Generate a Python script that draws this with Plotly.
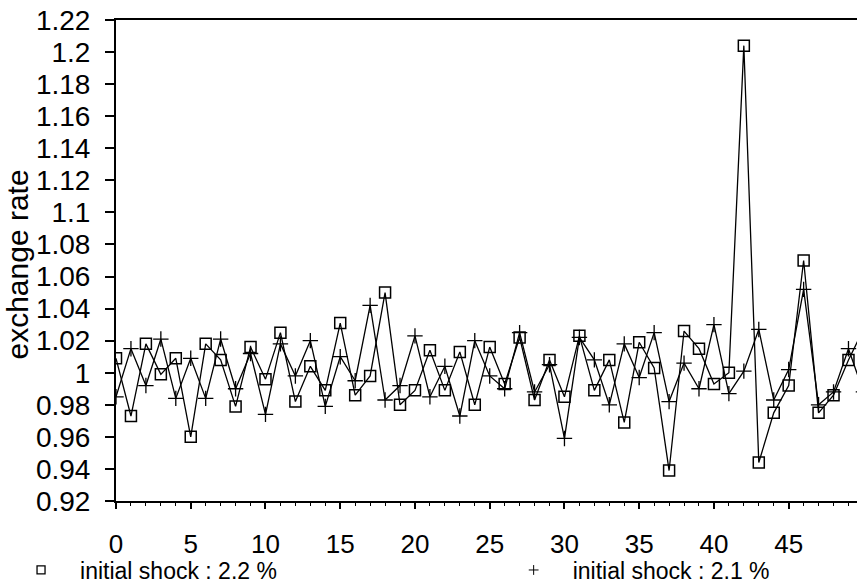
import plotly.graph_objects as go

# ---- data ----
periods = list(range(0, 51))
shock_22 = [1.009, 0.973, 1.018, 0.999, 1.009, 0.960, 1.018, 1.008, 0.979, 1.016,
            0.996, 1.025, 0.982, 1.004, 0.989, 1.031, 0.986, 0.998, 1.050, 0.980,
            0.989, 1.014, 0.989, 1.013, 0.980, 1.016, 0.993, 1.022, 0.983, 1.008,
            0.985, 1.023, 0.989, 1.008, 0.969, 1.019, 1.003, 0.939, 1.026, 1.015,
            0.993, 1.000, 1.204, 0.944, 0.975, 0.992, 1.070, 0.975, 0.986, 1.008,
            1.027]
shock_21 = [0.985, 1.015, 0.992, 1.021, 0.984, 1.009, 0.984, 1.021, 0.990, 1.012,
            0.974, 1.018, 0.998, 1.020, 0.979, 1.010, 0.995, 1.042, 0.983, 0.992,
            1.023, 0.985, 1.004, 0.973, 1.020, 0.998, 0.990, 1.025, 0.988, 1.005,
            0.959, 1.022, 1.008, 0.980, 1.018, 0.997, 1.025, 0.982, 1.006, 0.990,
            1.030, 0.987, 1.001, 1.027, 0.983, 1.002, 1.052, 0.980, 0.988, 1.015,
            0.988]
legend_names = ["initial shock : 2.2 %", "initial shock : 2.1 %"]

y_tickvals = [1.22, 1.20, 1.18, 1.16, 1.14, 1.12, 1.10, 1.08, 1.06, 1.04, 1.02,
              1.00, 0.98, 0.96, 0.94, 0.92]
y_ticktext = ["1.22", "1.2", "1.18", "1.16", "1.14", "1.12", "1.1", "1.08", "1.06",
              "1.04", "1.02", "1", "0.98", "0.96", "0.94", "0.92"]
x_tickvals = [0, 5, 10, 15, 20, 25, 30, 35, 40, 45]
x_ticktext = ["0", "5", "10", "15", "20", "25", "30", "35", "40", "45"]

FONT = "Liberation Sans, Arial, Helvetica, sans-serif"

fig = go.Figure()
fig.add_trace(go.Scatter(
    x=periods, y=shock_22, mode="lines+markers", showlegend=False,
    line=dict(color="black", width=1.3),
    marker=dict(symbol="square-open", size=11, color="black", line=dict(width=1.5)),
))
fig.add_trace(go.Scatter(
    x=periods, y=shock_21, mode="lines+markers", showlegend=False,
    line=dict(color="black", width=1.3),
    marker=dict(symbol="cross-thin-open", size=11, color="black", line=dict(width=1.3)),
))
# legend entries (markers only), each in its own legend box
fig.add_trace(go.Scatter(
    x=[None], y=[None], mode="markers", name=legend_names[0], legend="legend",
    marker=dict(symbol="square-open", size=8, color="black", line=dict(width=1.3)),
))
fig.add_trace(go.Scatter(
    x=[None], y=[None], mode="markers", name=legend_names[1], legend="legend2",
    marker=dict(symbol="cross-thin-open", size=7, color="black", line=dict(width=1)),
))

legend_common = dict(
    orientation="h", xanchor="left", yanchor="middle", y=-0.1435,
    font=dict(size=23, family=FONT, color="black"),
    itemwidth=68, bgcolor="rgba(0,0,0,0)", borderwidth=0,
)

fig.update_layout(
    width=857, height=585,
    margin=dict(l=116, r=0, t=20, b=84, autoexpand=False),
    paper_bgcolor="white", plot_bgcolor="white",
    font=dict(family=FONT, color="black"),
    showlegend=True,
    legend=dict(x=-0.1538, **legend_common),
    legend2=dict(x=0.511, **legend_common),
    annotations=[dict(
        text="exchange rate", textangle=-90, xref="paper", yref="paper",
        x=-0.1336, y=0.4917, xanchor="center", yanchor="middle", showarrow=False,
        font=dict(size=30, family=FONT, color="black"),
    )],
)
fig.update_xaxes(
    range=[0, 49.57], showgrid=False, zeroline=False,
    showline=True, linecolor="black", linewidth=2, mirror=True,
    tickvals=x_tickvals, ticktext=x_ticktext,
    ticks="outside", ticklen=6, tickwidth=1.5, tickcolor="black",
    ticklabelstandoff=13,
    tickfont=dict(size=26, family=FONT, color="black"),
    minor=dict(dtick=1, tick0=0, ticks="outside", ticklen=3, tickwidth=1, tickcolor="black"),
)
fig.update_yaxes(
    range=[0.92, 1.22], showgrid=False, zeroline=False,
    showline=True, linecolor="black", linewidth=2,
    tickvals=y_tickvals, ticktext=y_ticktext,
    ticks="outside", ticklen=9, tickwidth=1.5, tickcolor="black",
    ticklabelstandoff=9,
    tickfont=dict(size=28, family=FONT, color="black"),
)

fig.write_html("out.html")
